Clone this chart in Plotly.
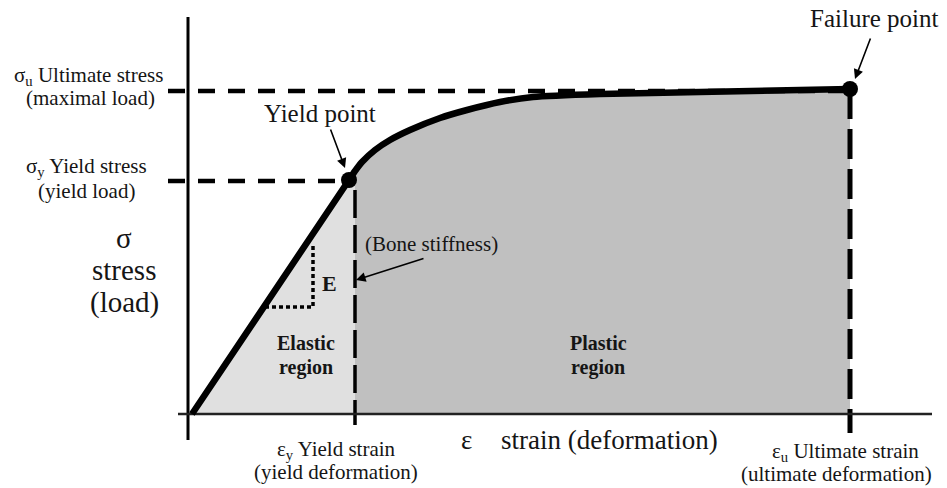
import plotly.graph_objects as go

# ---- data (arbitrary units: strain, stress) ----
curve_strain = [0.00, 1.57, 1.63, 1.70, 1.83, 1.98, 2.18, 2.48, 2.75, 3.08, 3.41, 4.08, 5.08, 6.58]
curve_stress = [0.00, 2.34, 2.43, 2.52, 2.64, 2.74, 2.84, 2.96, 3.04, 3.12, 3.17, 3.20, 3.22, 3.25]

yield_point = (1.57, 2.34)      # (strain, stress)
failure_point = (6.58, 3.25)
yield_stress_level = 2.33
ultimate_stress_level = 3.23
yield_strain_level = 1.63
ultimate_strain_level = 6.58

stiff_run = [0.73, 1.21]        # dotted stiffness triangle (strain)
stiff_rise = [1.07, 1.69]       # (stress)

# ---- layout helpers (pixel -> data for text placement) ----
W, H = 947, 488
OX, OY, S = 192, 414, 100.0
def X(px): return (px - OX) / S
def Y(py): return (OY - py) / S

FONT = "Liberation Serif"
TXT = "#151515"

fig = go.Figure()

elastic_x = [s for s in curve_strain if s <= yield_strain_level]
elastic_y = [curve_stress[i] for i, s in enumerate(curve_strain) if s <= yield_strain_level]
plastic_x = [s for s in curve_strain if s >= yield_strain_level]
plastic_y = [curve_stress[i] for i, s in enumerate(curve_strain) if s >= yield_strain_level]

fig.add_trace(go.Scatter(x=elastic_x, y=elastic_y, mode="lines", fill="tozeroy",
                         fillcolor="#e0e0e0", line=dict(width=0), hoverinfo="skip"))
fig.add_trace(go.Scatter(x=plastic_x, y=plastic_y, mode="lines", fill="tozeroy",
                         fillcolor="#c0c0c0", line=dict(width=0, shape="spline", smoothing=0.6),
                         hoverinfo="skip"))

# dashed reference lines
fig.add_trace(go.Scatter(x=[X(168), failure_point[0]], y=[ultimate_stress_level]*2, mode="lines",
                         line=dict(color="black", width=4.5, dash="17px,13px"), hoverinfo="skip"))
fig.add_trace(go.Scatter(x=[X(168), yield_point[0]], y=[yield_stress_level]*2, mode="lines",
                         line=dict(color="black", width=4.5, dash="17px,13px"), hoverinfo="skip"))
fig.add_trace(go.Scatter(x=[yield_strain_level]*2, y=[yield_point[1] - 0.1, Y(425)], mode="lines",
                         line=dict(color="black", width=3.5, dash="28px,7px"), hoverinfo="skip"))
fig.add_trace(go.Scatter(x=[ultimate_strain_level]*2, y=[failure_point[1], Y(433)], mode="lines",
                         line=dict(color="black", width=5, dash="30px,10px"), hoverinfo="skip"))

# stiffness triangle (dotted)
fig.add_trace(go.Scatter(x=[stiff_run[0], stiff_run[1], stiff_run[1]],
                         y=[stiff_rise[0], stiff_rise[0], stiff_rise[1]], mode="lines",
                         line=dict(color="black", width=3.5, dash="4px,3px"), hoverinfo="skip"))

# axes
fig.add_trace(go.Scatter(x=[X(188), X(188)], y=[Y(17), Y(440)], mode="lines",
                         line=dict(color="black", width=3), hoverinfo="skip"))
fig.add_trace(go.Scatter(x=[X(178), X(932)], y=[0, 0], mode="lines",
                         line=dict(color="#222", width=2.5), hoverinfo="skip"))

# stress-strain curve
fig.add_trace(go.Scatter(x=curve_strain, y=curve_stress, mode="lines",
                         line=dict(color="black", width=6.5, shape="spline", smoothing=0.6),
                         hoverinfo="skip"))
# key points
fig.add_trace(go.Scatter(x=[yield_point[0], failure_point[0]], y=[yield_point[1], failure_point[1]],
                         mode="markers", marker=dict(color="black", size=16), hoverinfo="skip"))

def txt(px, py, text, size=21, bold=False):
    if bold:
        text = "<b>" + text + "</b>"
    fig.add_annotation(x=X(px), y=Y(py), text=text, showarrow=False,
                       font=dict(family=FONT, size=size, color=TXT),
                       xanchor="center", yanchor="middle")

def arrow(tail, head):
    fig.add_annotation(x=X(head[0]), y=Y(head[1]), ax=tail[0] - head[0], ay=tail[1] - head[1],
                       axref="pixel", ayref="pixel", text="", showarrow=True,
                       arrowhead=2, arrowsize=1.2, arrowwidth=1.6, arrowcolor="black")

txt(88, 76, "σ<sub>u</sub> Ultimate stress")
txt(90, 98, "(maximal load)")
txt(86, 167, "σ<sub>y</sub> Yield stress")
txt(86, 191, "(yield load)")
txt(124, 238, "σ", size=29)
txt(124, 270, "stress", size=29)
txt(124, 302, "(load)", size=29)

txt(320, 113, "Yield point", size=25)
txt(874, 18, "Failure point", size=25)
txt(431, 244, "(Bone stiffness)", size=21)
txt(329, 283, "E", size=22, bold=True)
txt(306, 343, "Elastic", size=20, bold=True)
txt(306, 367, "region", size=20, bold=True)
txt(598, 343, "Plastic", size=20, bold=True)
txt(598, 367, "region", size=20, bold=True)

txt(336, 450, "ε<sub>y</sub> Yield strain")
txt(336, 472, "(yield deformation)")
txt(466, 440, "ε", size=27)
txt(609, 440, "strain (deformation)", size=27)
txt(845, 452, "ε<sub>u</sub> Ultimate strain")
txt(836, 474, "(ultimate deformation)")

arrow((330, 128), (345, 168))
arrow((871, 37), (855, 79))
arrow((425, 258), (356, 280))

fig.update_layout(
    width=W, height=H, autosize=False,
    margin=dict(l=0, r=0, t=0, b=0),
    paper_bgcolor="white", plot_bgcolor="white",
    showlegend=False,
    xaxis=dict(range=[X(0), X(W)], visible=False, fixedrange=True),
    yaxis=dict(range=[Y(H), Y(0)], visible=False, fixedrange=True),
)

fig.write_html("out.html", config={"displayModeBar": False},
               post_script="document.body.style.margin='0';document.body.style.overflow='hidden';")
